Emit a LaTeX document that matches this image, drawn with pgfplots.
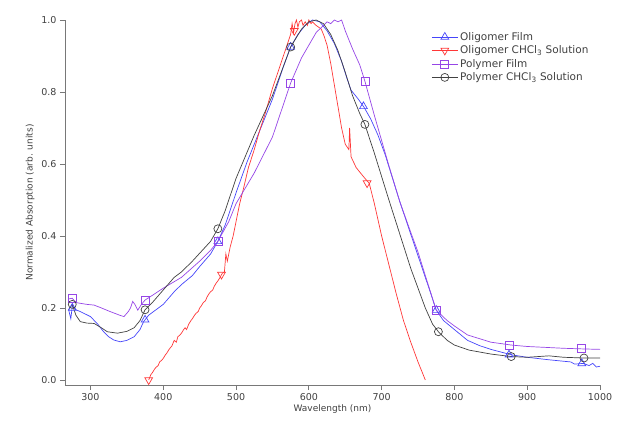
\documentclass[border=0pt]{standalone}
\usepackage{fontspec}
\setmainfont{DejaVu Sans}
\usepackage{pgfplots}
\pgfplotsset{compat=1.18}

\definecolor{cBlue}{RGB}{70,70,250}
\definecolor{cRed}{RGB}{255,55,55}
\definecolor{cPurple}{RGB}{150,70,230}
\definecolor{cBlack}{RGB}{65,65,65}
\definecolor{axgray}{RGB}{120,120,120}

\begin{document}
\begin{tikzpicture}[x=1pt,y=1pt]
\useasboundingbox (-65,-40) rectangle (553,385);
\begin{axis}[
    scale only axis,
    width=535pt, height=365pt,
    xmin=265, xmax=1000,
    ymin=-0.014, ymax=1.0,
    axis lines*=left,
    axis line style={axgray, line width=0.8pt},
    tick style={axgray, line width=0.8pt},
    tick align=outside,
    major tick length=5pt,
    xtick={300,400,...,1000},
    ytick={0,0.2,...,1.0},
    font=\fontsize{9.5}{11}\selectfont,
    ticklabel style={text=black!75},
    /pgf/number format/assume math mode=true,
    yticklabel style={/pgf/number format/fixed, /pgf/number format/precision=1, /pgf/number format/fixed zerofill},
    xticklabel style={/pgf/number format/1000 sep={}},
    xlabel={Wavelength (nm)},
    ylabel={Normalized Absorption (arb. units)},
    xlabel style={text=black!75, yshift=3pt, font=\fontsize{9}{10}\selectfont},
    ylabel style={text=black!75, font=\fontsize{9}{10}\selectfont},
    legend style={draw=none, fill=none, at={(0.679,0.978)}, anchor=north west,
        font=\fontsize{10.5}{12.5}\selectfont, row sep=0pt, text=black!75},
    legend cell align=left,
    clip=false,
]

% Oligomer Film
\addplot[cBlue, line width=0.7pt, forget plot] coordinates {
(270,0.195) (273,0.17) (275,0.205) (280,0.195) (286,0.19) (300,0.176) (310,0.155) (318,0.134)
(325,0.12) (332,0.111) (341,0.106) (350,0.11) (360,0.12) (368,0.14) (373,0.162)
(380,0.18) (390,0.195) (400,0.21) (415,0.245) (425,0.265) (440,0.29) (450,0.315)
(465,0.35) (475,0.385) (485,0.43) (500,0.52) (515,0.605) (525,0.655) (540,0.73)
(550,0.78) (565,0.87) (575,0.925) (585,0.96) (595,0.985) (605,1.0) (615,0.995)
(625,0.97) (635,0.935) (645,0.885) (652,0.84) (658,0.805) (668,0.78) (676,0.757)
(685,0.725) (695,0.68) (705,0.625) (715,0.56) (725,0.495) (735,0.435) (745,0.375)
(755,0.315) (765,0.255) (775,0.194) (785,0.165) (800,0.14) (818,0.11) (835,0.095)
(850,0.085) (878,0.07) (900,0.063) (930,0.056) (950,0.052) (960,0.05) (965,0.044)
(977,0.046) (985,0.04) (990,0.046) (995,0.036) (1000,0.038)
};
\addplot[cBlue, only marks, mark=triangle, mark size=4.5pt, mark options={line width=0.7pt},
    legend image code/.code={\draw[cBlue, line width=0.7pt] (0pt,0pt) -- (26pt,0pt);
      \draw[cBlue, line width=0.7pt, mark=triangle, mark size=4.5pt] plot coordinates {(13pt,0pt)};}]
 coordinates {(275,0.20) (375,0.167) (475,0.385) (575,0.925) (675,0.76) (775,0.194) (875,0.07) (975,0.046)};
\addlegendentry{Oligomer Film}

% Oligomer CHCl3 Solution
\addplot[cRed, line width=0.7pt, forget plot] coordinates {
(380,0.0) (383,0.015) (385,0.02) (388,0.03) (390,0.035) (393,0.04) (395,0.05) (398,0.055)
(400,0.06) (403,0.07) (405,0.075) (408,0.085) (410,0.09) (412,0.095) (415,0.11) (418,0.105)
(420,0.12) (423,0.125) (425,0.13) (428,0.14) (430,0.145) (432,0.14) (435,0.155) (438,0.165)
(440,0.17) (443,0.18) (445,0.185) (448,0.19) (450,0.2) (452,0.205) (455,0.215) (458,0.22)
(460,0.23) (463,0.24) (465,0.245) (468,0.25) (470,0.26) (473,0.27) (475,0.275) (478,0.285)
(481,0.296) (484,0.30) (486,0.35) (488,0.33) (492,0.37) (496,0.40) (500,0.44) (505,0.49)
(510,0.53) (517,0.59) (525,0.64) (532,0.69) (540,0.74) (550,0.81) (560,0.87) (565,0.90)
(570,0.93) (575,0.96) (577,0.99) (579,0.965) (581,0.99) (583,1.0) (585,0.98) (587,0.995)
(590,1.0) (592,0.985) (595,0.995) (598,0.985) (600,1.0) (603,0.99) (605,0.995) (610,0.985)
(617,0.975) (621,0.955) (625,0.93) (630,0.88) (635,0.82) (640,0.76) (645,0.70) (650,0.655)
(655,0.64) (656,0.70) (658,0.62) (665,0.59) (675,0.565) (683,0.546) (690,0.49) (700,0.40)
(710,0.32) (720,0.24) (730,0.165) (740,0.105) (750,0.05) (760,0.0)
};
\addplot[cRed, only marks, mark=triangle, mark size=4.5pt, mark options={rotate=180, line width=0.7pt},
    legend image code/.code={\draw[cRed, line width=0.7pt] (0pt,0pt) -- (26pt,0pt);
      \draw[cRed, line width=0.7pt, mark=triangle, mark size=4.5pt, mark options={rotate=180}] plot coordinates {(13pt,0pt)};}]
 coordinates {(380,0.0) (480,0.293) (580,0.97) (680,0.547)};
\addlegendentry{Oligomer CHCl\textsubscript{3} Solution}

% Polymer Film
\addplot[cPurple, line width=0.7pt, forget plot] coordinates {
(270,0.225) (275,0.227) (280,0.215) (286,0.213) (295,0.21) (305,0.208) (315,0.20) (327,0.19)
(340,0.18) (346,0.176) (352,0.19) (355,0.20) (358,0.218) (361,0.21) (365,0.194) (370,0.21)
(375,0.222) (385,0.235) (400,0.255) (425,0.285) (450,0.33) (465,0.36) (475,0.385) (490,0.44)
(500,0.49) (525,0.575) (550,0.675) (575,0.825) (590,0.895) (600,0.93) (610,0.965) (620,0.985)
(625,0.995) (630,0.99) (635,1.0) (640,0.995) (645,1.0) (650,0.97) (655,0.945) (660,0.92) (670,0.875)
(677,0.83) (690,0.735) (700,0.665) (710,0.595) (725,0.495) (740,0.41) (750,0.355)
(760,0.29) (775,0.194) (790,0.165) (800,0.15) (818,0.125) (850,0.105) (878,0.097)
(900,0.093) (950,0.088) (980,0.086) (1000,0.085)
};
\addplot[cPurple, only marks, mark=square, mark size=4pt, mark options={line width=0.7pt},
    legend image code/.code={\draw[cPurple, line width=0.7pt] (0pt,0pt) -- (26pt,0pt);
      \draw[cPurple, line width=0.7pt, mark=square, mark size=4pt] plot coordinates {(13pt,0pt)};}]
 coordinates {(275,0.227) (375,0.222) (475,0.385) (575,0.825) (677,0.83) (775,0.194) (875,0.097) (975,0.087)};
\addlegendentry{Polymer Film}

% Polymer CHCl3 Solution
\addplot[cBlack, line width=0.7pt, forget plot] coordinates {
(270,0.195) (275,0.21) (280,0.18) (286,0.162) (295,0.158) (305,0.157) (315,0.145) (323,0.134)
(337,0.13) (350,0.135) (360,0.145) (368,0.165) (375,0.195) (385,0.215) (400,0.25) (415,0.285)
(425,0.30) (440,0.33) (450,0.352) (465,0.385) (475,0.42) (485,0.47) (500,0.56) (525,0.68)
(550,0.79) (575,0.925) (590,0.975) (600,0.995) (610,1.0) (620,0.99) (630,0.96) (640,0.915)
(650,0.855) (660,0.79) (670,0.74) (677,0.71) (690,0.63) (700,0.565) (710,0.5) (725,0.405)
(740,0.31) (750,0.255) (760,0.2) (770,0.155) (778,0.134) (790,0.11) (800,0.097) (820,0.083)
(850,0.072) (878,0.065) (900,0.063) (930,0.067) (950,0.063) (978,0.061) (1000,0.061)
};
\addplot[cBlack, only marks, mark=o, mark size=4pt, mark options={line width=0.7pt},
    legend image code/.code={\draw[cBlack, line width=0.7pt] (0pt,0pt) -- (26pt,0pt);
      \draw[cBlack, line width=0.7pt, mark=o, mark size=4pt] plot coordinates {(13pt,0pt)};}]
 coordinates {(275,0.21) (375,0.195) (475,0.42) (575,0.925) (677,0.71) (778,0.134) (878,0.065) (978,0.061)};
\addlegendentry{Polymer CHCl\textsubscript{3} Solution}

\end{axis}
\end{tikzpicture}
\end{document}
